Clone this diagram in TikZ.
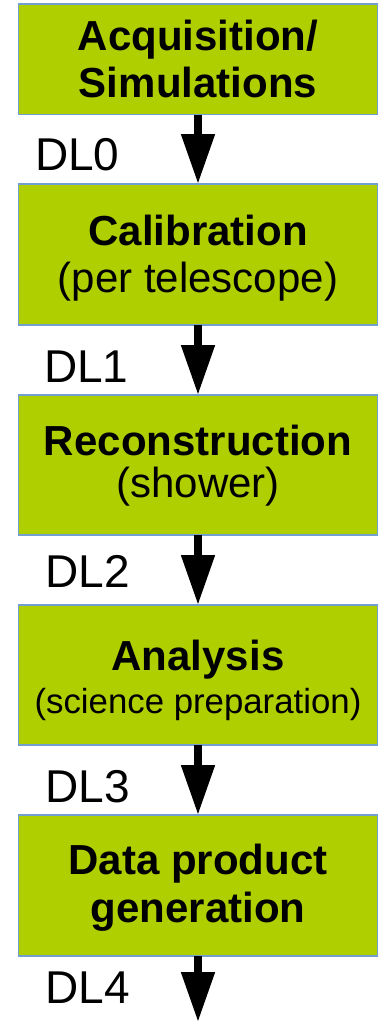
\documentclass[tikz,border=0pt]{standalone}
\usepackage{fontspec}
\setmainfont{Liberation Sans}
\usetikzlibrary{arrows.meta}
\definecolor{stagefill}{HTML}{AFCF00}
\definecolor{stageedge}{HTML}{729FCF}
\begin{document}
\begin{tikzpicture}[x=1pt,y=-1pt,
  stagebox/.style={draw=stageedge, fill=stagefill, line width=1.3pt, inner sep=0pt},
  boldline/.style={anchor=base, inner sep=0pt, font=\fontsize{42}{48}\selectfont\bfseries},
  plainline/.style={anchor=base, inner sep=0pt, font=\fontsize{42}{48}\selectfont},
  smallline/.style={anchor=base, inner sep=0pt, font=\fontsize{34.8}{40}\selectfont},
  dllabel/.style={anchor=base west, inner sep=0pt, font=\fontsize{46}{50}\selectfont},
  flow/.style={line width=8pt, -{Triangle[width=32pt,length=50pt]}}]
\useasboundingbox (0,0) rectangle (380,1023);

% processing stages
\path[stagebox] (18.5,4)   rectangle (377.5,114.5) node[pos=0.5] (acq) {};
\path[stagebox] (18.5,184) rectangle (377.5,325)   node[pos=0.5] (cal) {};
\path[stagebox] (18.5,395) rectangle (377.5,535)   node[pos=0.5] (rec) {};
\path[stagebox] (18.5,605) rectangle (377.5,745)   node[pos=0.5] (ana) {};
\path[stagebox] (18.5,815) rectangle (377.5,956)   node[pos=0.5] (dpg) {};

% stage titles
\node[boldline]  (acqA) at (198,50)  {Acquisition/};
\node[boldline]  (acqB) at (198,97)  {Simulations};
\node[boldline]  (calA) at (198,245) {Calibration};
\node[plainline] (calB) at (198,292) {(per telescope)};
\node[boldline]  (recA) at (198,455) {Reconstruction};
\node[plainline] (recB) at (198,497) {(shower)};
\node[boldline]  (anaA) at (198,670) {Analysis};
\node[smallline] (anaB) at (198,713) {(science preparation)};
\node[boldline]  (dpgA) at (198,874) {Data product};
\node[boldline]  (dpgB) at (198,922) {generation};

% data-level flow
\coordinate (acqS) at (198,114.5);
\coordinate (calN) at (198,184);
\coordinate (calS) at (198,325);
\coordinate (recN) at (198,395);
\coordinate (recS) at (198,535);
\coordinate (anaN) at (198,605);
\coordinate (anaS) at (198,745);
\coordinate (dpgN) at (198,815);
\coordinate (dpgS) at (198,956);
\coordinate (out)  at (198,1022);
\draw[flow] (acqS) -- (calN);
\draw[flow] (calS) -- (recN);
\draw[flow] (recS) -- (anaN);
\draw[flow] (anaS) -- (dpgN);
\draw[flow] (dpgS) -- (out);

% data levels
\node[dllabel] (dl0) at (35,170)   {DL0};
\node[dllabel] (dl1) at (44,382)   {DL1};
\node[dllabel] (dl2) at (45.5,587) {DL2};
\node[dllabel] (dl3) at (45.5,802) {DL3};
\node[dllabel] (dl4) at (45.5,1003) {DL4};
\end{tikzpicture}
\end{document}
